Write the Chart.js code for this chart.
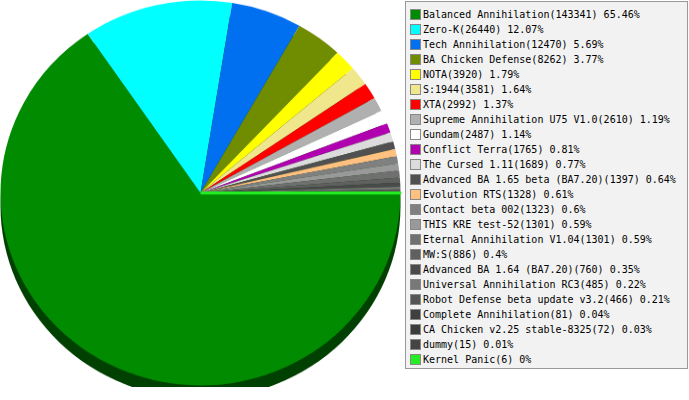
<!DOCTYPE html>
<html>
<head>
<meta charset="utf-8">
<script src="https://cdn.jsdelivr.net/npm/chart.js@4/dist/chart.umd.min.js"></script>
<style>
  body { margin: 0; background: #fff; width: 689px; height: 400px; overflow: hidden; position: relative; }
  #pieWrap { position: absolute; left: -1.5px; top: -1.5px; width: 403px; height: 403px;
             transform: scaleY(0.9625); transform-origin: 0 0; }
  #legend { position: absolute; left: 405px; top: 1px; width: 281px; height: 361px;
            padding-top: 5px; background: #f2f2f2; border: 1px solid #999;
            font: 10px "DejaVu Sans Mono", monospace; color: #000; }
  .row { height: 15px; line-height: 15px; position: relative; padding-left: 17px; white-space: nowrap; }
  .sw { position: absolute; left: 4px; top: 2px; width: 9px; height: 9px; border: 1px solid #888; }
</style>
</head>
<body>
<div id="pieWrap"><canvas id="pie" width="403" height="403"></canvas></div>
<div id="legend"></div>
<script>
const names = [
  "Balanced Annihilation", "Zero-K", "Tech Annihilation", "BA Chicken Defense",
  "NOTA", "S:1944", "XTA", "Supreme Annihilation U75 V1.0", "Gundam",
  "Conflict Terra", "The Cursed 1.11", "Advanced BA 1.65 beta (BA7.20)",
  "Evolution RTS", "Contact beta 002", "THIS KRE test-52",
  "Eternal Annihilation V1.04", "MW:S", "Advanced BA 1.64 (BA7.20)",
  "Universal Annihilation RC3", "Robot Defense beta update v3.2",
  "Complete Annihilation", "CA Chicken v2.25 stable-8325", "dummy", "Kernel Panic"
];
const counts = [143341, 26440, 12470, 8262, 3920, 3581, 2992, 2610, 2487, 1765,
  1689, 1397, 1328, 1323, 1301, 1301, 886, 760, 485, 466, 81, 72, 15, 6];
const colors = [
  "#008b00", "#00ffff", "#0070f0", "#708c00", "#ffff00", "#f0e68c", "#ff0000",
  "#b0b0b0", "#ffffff", "#b000b0", "#dcdcdc", "#505050", "#ffc080", "#808080",
  "#999999", "#707070", "#606060", "#4a4a4a", "#787878", "#555555", "#404040",
  "#3c3c3c", "#444444", "#22ee22"
];

const total = counts.reduce((a, b) => a + b, 0);
const pct = counts.map(v => Math.round(v / total * 10000) / 100);

// legend box
const legend = document.getElementById("legend");
names.forEach((n, i) => {
  const row = document.createElement("div");
  row.className = "row";
  const sw = document.createElement("span");
  sw.className = "sw";
  sw.style.background = colors[i];
  row.appendChild(sw);
  row.appendChild(document.createTextNode(n + "(" + counts[i] + ") " + pct[i] + "%"));
  legend.appendChild(row);
});

// dark rim under the pie (3d look)
const rim = {
  id: "rim",
  beforeDatasetsDraw: chart => {
    const arc = chart.getDatasetMeta(0).data[0];
    const ctx = chart.ctx;
    ctx.save();
    ctx.beginPath();
    ctx.arc(arc.x, arc.y + 13.5, arc.outerRadius, 0, Math.PI * 2);
    ctx.fillStyle = "#004000";
    ctx.fill();
    ctx.restore();
  }
};

new Chart(document.getElementById("pie"), {
  type: "pie",
  plugins: [rim],
  data: {
    labels: names,
    datasets: [{
      data: counts,
      backgroundColor: colors,
      borderColor: colors,
      // only the near-zero last slice gets a stroke so it shows as a line
      borderWidth: counts.map((v, i) => i === counts.length - 1 ? 3 : 0),
      hoverBorderWidth: 0,
      hoverOffset: 0
    }]
  },
  options: {
    responsive: false,
    animation: false,
    rotation: 90,
    layout: { padding: 0 },
    events: [],
    plugins: {
      legend: { display: false },
      tooltip: { enabled: false }
    }
  }
});
</script>
</body>
</html>
